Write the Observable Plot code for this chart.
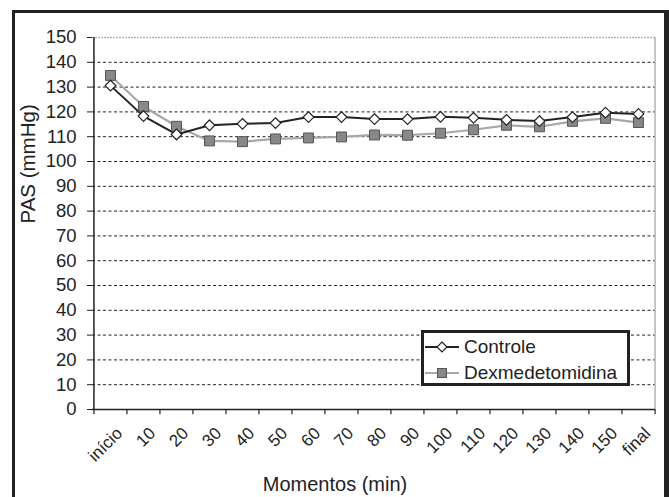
<!DOCTYPE html>
<html>
<head>
<meta charset="utf-8">
<script src="https://cdn.jsdelivr.net/npm/d3@7"></script>
<script src="https://cdn.jsdelivr.net/npm/@observablehq/plot@0.6"></script>
<style>
  html, body { margin: 0; padding: 0; background: #fff; }
  #wrap { position: relative; width: 669px; height: 497px; overflow: hidden; font-family: "Liberation Sans", Arial, sans-serif; color: #222; }
  #border { position: absolute; left: 12px; top: 10px; width: 657px; height: 500px; box-sizing: border-box;
            border-left: 3px solid #222; border-top: 3px solid #222; border-right: 5px solid #222; }
  #legend { position: absolute; left: 421px; top: 330px; width: 209px; height: 56px; box-sizing: border-box;
            border: 3px solid #222; background: #fff; }
  #legend .row { position: absolute; left: 0; height: 26px; display: flex; align-items: center; }
  #legend .row span { font-size: 19px; margin-left: 4px; line-height: 26px; }
</style>
</head>
<body>
<div id="wrap">
  <div id="chart"></div>
  <div id="border"></div>
  <div id="legend">
    <div class="row" style="top:1px">
      <svg width="36" height="26"><line x1="1" x2="35" y1="13" y2="13" stroke="#222" stroke-width="2"/><path d="M18,8 L23,13 L18,18 L13,13 Z" fill="#fff" stroke="#222" stroke-width="1.2"/></svg>
      <span>Controle</span>
    </div>
    <div class="row" style="top:27px">
      <svg width="36" height="26"><line x1="1" x2="35" y1="13" y2="13" stroke="#a8a8a8" stroke-width="2"/><rect x="13.5" y="8.5" width="9" height="9" fill="#888" stroke="#555" stroke-width="1"/></svg>
      <span>Dexmedetomidina</span>
    </div>
  </div>
</div>
<script>
const categories = ["início","10","20","30","40","50","60","70","80","90","100","110","120","130","140","150","final"];
const controle = [130.6, 118.3, 110.9, 114.6, 115.2, 115.5, 117.9, 117.9, 117.1, 117.1, 118.0, 117.6, 116.8, 116.3, 117.9, 119.7, 119.2];
const dexmed   = [134.7, 122.2, 114.2, 108.3, 108.0, 109.1, 109.5, 109.9, 110.7, 110.6, 111.4, 112.8, 114.6, 114.0, 116.2, 117.4, 115.7];
const yTicks = [0,10,20,30,40,50,60,70,80,90,100,110,120,130,140,150];
const gridTicks = [10,20,30,40,50,60,70,80,90,100,110,120,130,140];

const W = 669, H = 497, ML = 92, MR = 14, MT = 37, MB = 88;
const step = (W - ML - MR) / categories.length;

const rowsC = categories.map((c, i) => ({x: c, y: controle[i]}));
const rowsD = categories.map((c, i) => ({x: c, y: dexmed[i]}));

const chart = Plot.plot({
  width: W, height: H,
  marginLeft: ML, marginRight: MR, marginTop: MT, marginBottom: MB,
  style: {fontFamily: "Liberation Sans, Arial, sans-serif", color: "#222", background: "transparent"},
  x: {type: "point", domain: categories, padding: 0.5, axis: null},
  y: {type: "linear", domain: [0, 150], axis: null},
  marks: [
    Plot.ruleY(gridTicks, {stroke: "#222", strokeWidth: 1, strokeDasharray: "3,2.5"}),
    Plot.ruleY([150], {stroke: "#b4b4b4", strokeWidth: 1.5, strokeDasharray: "2,1"}),
    Plot.ruleX([categories[categories.length - 1]], {dx: step / 2, y1: 0, y2: 150, stroke: "#b4b4b4", strokeWidth: 1.5}),
    Plot.axisY({ticks: yTicks, tickSize: 5, tickPadding: 11, fontSize: 18.5, label: null, stroke: "#222"}),
    Plot.text(["PAS (mmHg)"], {frameAnchor: "left", dx: -64, rotate: -90, fontSize: 20.5, fill: "#222"}),
    Plot.ruleX([categories[0]], {dx: -step / 2, y1: 0, y2: 150, stroke: "#222", strokeWidth: 1.5}),
    Plot.ruleY([0], {stroke: "#222", strokeWidth: 1.5}),
    Plot.ruleX(categories, {x: d => d, dx: -step / 2, y1: 0, y2: -2.1, stroke: "#222", strokeWidth: 1.2}),
    Plot.ruleX([categories[categories.length - 1]], {dx: step / 2, y1: 0, y2: -2.1, stroke: "#222", strokeWidth: 1.2}),
    Plot.text(categories, {x: d => d, y: 0, text: d => d, rotate: -45, textAnchor: "end", lineAnchor: "middle", dx: 9, dy: 21, fontSize: 17, fill: "#222"}),
    Plot.text(["Momentos (min)"], {frameAnchor: "bottom", dx: -39, dy: 81, fontSize: 20, lineAnchor: "bottom", fill: "#222"}),
    Plot.line(rowsD, {x: "x", y: "y", stroke: "#a8a8a8", strokeWidth: 2.2}),
    Plot.line(rowsC, {x: "x", y: "y", stroke: "#222", strokeWidth: 2}),
    Plot.dot(rowsD, {x: "x", y: "y", symbol: "square", r: 5.6, fill: "#888", stroke: "#555", strokeWidth: 1}),
    Plot.dot(rowsC, {x: "x", y: "y", symbol: "diamond2", r: 4.8, fill: "#fff", stroke: "#222", strokeWidth: 1.2})
  ]
});
document.getElementById("chart").appendChild(chart);
</script>
</body>
</html>
